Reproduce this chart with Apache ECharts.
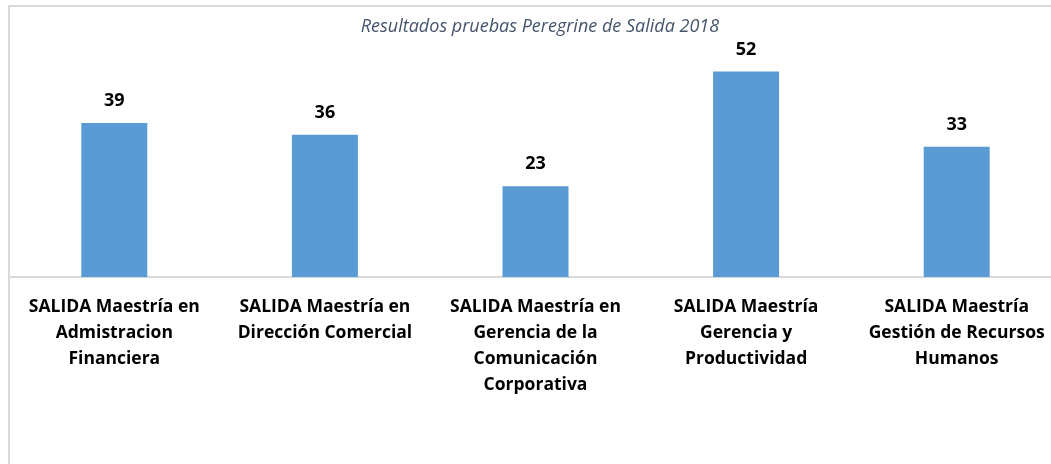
<!DOCTYPE html>
<html>
<head>
<meta charset="utf-8">
<script src="https://cdn.jsdelivr.net/npm/echarts@6/dist/echarts.min.js"></script>
<style>
	html, body { margin: 0; padding: 0; background: #fff; overflow: hidden; }
	#frame { position: absolute; left: 8px; top: 5px; width: 1100px; height: 500px; border-left: 2px solid #d9d9d9; border-top: 2px solid #d9d9d9; }
	#chart { position: absolute; left: 0; top: 0; width: 1062px; height: 464px; }
</style>
</head>
<body>
<div id="frame"></div>
<div id="chart"></div>
<script>
var titleText = 'Resultados pruebas Peregrine de Salida 2018';
var categories = [
	'SALIDA Maestría en\nAdmistracion\nFinanciera',
	'SALIDA Maestría en\nDirección Comercial',
	'SALIDA Maestría en\nGerencia de la\nComunicación\nCorporativa',
	'SALIDA Maestría\nGerencia y\nProductividad',
	'SALIDA Maestría\nGestión de Recursos\nHumanos'
];
var values = [39, 36, 23, 52, 33];

echarts.init(document.getElementById('chart')).setOption({
	animation: false,
	title: {
		text: titleText,
		left: 535,
		textAlign: 'center',
		top: 13,
		textStyle: {
			fontFamily: 'Open Sans',
			fontStyle: 'italic',
			fontWeight: 'normal',
			fontSize: 18,
			color: '#44546A'
		}
	},
	grid: {
		left: 9,
		right: 0,
		top: 40,
		bottom: 187
	},
	xAxis: {
		type: 'category',
		data: categories,
		axisLine: { lineStyle: { color: '#d9d9d9', width: 2 } },
		axisTick: { show: false },
		axisLabel: {
			interval: 0,
			margin: 17,
			fontFamily: 'Open Sans',
			fontWeight: 'bold',
			fontSize: 17.5,
			lineHeight: 26,
			color: '#000'
		}
	},
	yAxis: {
		type: 'value',
		min: 0,
		max: 60,
		show: false,
		splitLine: { show: false }
	},
	series: [
		{
			type: 'bar',
			data: values,
			barWidth: 66,
			itemStyle: { color: '#5B9BD5' },
			label: {
				show: true,
				position: 'top',
				distance: 13,
				fontFamily: 'Open Sans',
				fontWeight: 'bold',
				fontSize: 18,
				color: '#000'
			}
		}
	]
});
</script>
</body>
</html>
